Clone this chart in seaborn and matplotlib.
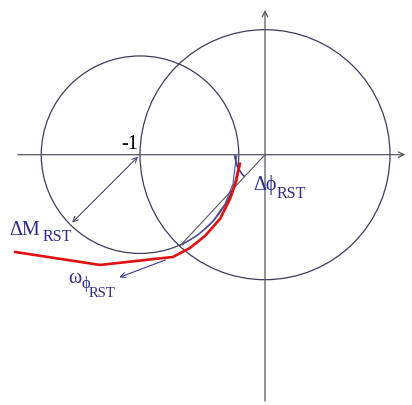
import numpy as np
import pandas as pd
import matplotlib
matplotlib.use("Agg")
import matplotlib.pyplot as plt
from matplotlib.patches import Circle, Arc
import seaborn as sns

# circles: unit circle at origin, modulus-margin circle at -1
circle_centres = [(0.0, 0.0), (-1.0, 0.0)]
circle_radii = [1.0, 0.79]

# Nyquist curves
red_x = [-2.0, -1.32, -0.736, -0.6, -0.48, -0.36, -0.28, -0.232, -0.2]
red_y = [-0.778, -0.882, -0.818, -0.746, -0.65, -0.514, -0.354, -0.218, -0.07]
blue_x = [-0.226, -0.24, -0.256, -0.32, -0.416, -0.536, -0.664]
blue_y = [-0.01, -0.1, -0.234, -0.394, -0.53, -0.642, -0.722]

phase_margin_deg = 47
dm_end = (-1.559, -0.559)
omega_start = (-0.776, -0.834)
omega_end = (-1.186, -0.989)

sns.set_style("white")
plt.rcParams["font.family"] = ["Liberation Serif", "DejaVu Serif"]

fig = plt.figure(figsize=(4.12, 4.06), dpi=100)
ax = fig.add_axes([0, 0, 1, 1])
ax.set_xlim(-2.12, 1.176)
ax.set_ylim(-2.0024, 1.2456)
ax.set_aspect("equal")
ax.axis("off")

circ_col = "#3c3c5c"
txt_col = "#2e2e8a"
grey = "#555566"

# axes with arrows
ax.annotate("", xy=(1.144, 0), xytext=(-2.0, 0),
            arrowprops=dict(arrowstyle="->", color=grey, lw=0.9, mutation_scale=10))
ax.annotate("", xy=(0, 1.18), xytext=(0, -1.994),
            arrowprops=dict(arrowstyle="->", color=grey, lw=0.9, mutation_scale=10))

for c, r in zip(circle_centres, circle_radii):
    ax.add_patch(Circle(c, r, fill=False, color=circ_col, lw=0.9))

# phase margin line and arc
ang = np.deg2rad(180 + phase_margin_deg)
ax.plot([0, np.cos(ang)], [0, np.sin(ang)], color=grey, lw=0.8)
ax.add_patch(Arc((0, 0), 0.48, 0.48, theta1=180, theta2=180 + phase_margin_deg,
                 color="#2a2a90", lw=1.1))

curves = pd.concat([
    pd.DataFrame({"x": blue_x, "y": blue_y, "curve": "blue"}),
    pd.DataFrame({"x": red_x, "y": red_y, "curve": "red"}),
])
sns.lineplot(data=curves[curves.curve == "blue"], x="x", y="y", sort=False,
             color="#4a4aa8", lw=0.8, ax=ax)
sns.lineplot(data=curves[curves.curve == "red"], x="x", y="y", sort=False,
             color="#e01010", lw=1.9, ax=ax)

# modulus margin double arrow
ax.annotate("", xy=dm_end, xytext=(-1.0, 0.0),
            arrowprops=dict(arrowstyle="<->", color="#4a4a6a", lw=0.8, mutation_scale=9))
# omega arrow
ax.annotate("", xy=omega_end, xytext=omega_start,
            arrowprops=dict(arrowstyle="->", color="#3a3a9a", lw=0.8, mutation_scale=9))

ax.text(-1.08, 0.01, "-1", fontsize=14.5, color="black", ha="center", va="bottom")

# labels, built from pieces so the subscripts keep the original sizes
ax.text(-2.048, -0.634, "ΔM", fontsize=14.5, color=txt_col, va="baseline")
ax.text(-1.776, -0.682, "RST", fontsize=11.5, color=txt_col, va="baseline")
ax.text(-0.096, -0.274, "Δϕ", fontsize=14.5, color=txt_col, va="baseline")
ax.text(0.096, -0.338, "RST", fontsize=11.5, color=txt_col, va="baseline")
ax.text(-1.576, -1.018, "ω", fontsize=14.5, color=txt_col, va="baseline")
ax.text(-1.472, -1.058, "ϕ", fontsize=12, color=txt_col, va="baseline")
ax.text(-1.408, -1.13, "RST", fontsize=10.5, color=txt_col, va="baseline")

fig.savefig("out.png", dpi=100)
